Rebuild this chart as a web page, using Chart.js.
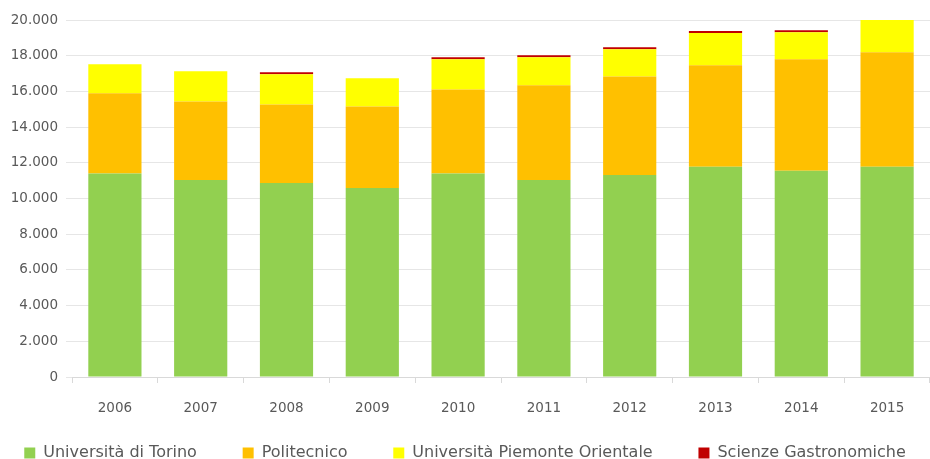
<!doctype html>
<html lang="it">
<head>
  <meta charset="utf-8">
  <title>Iscritti per ateneo</title>
  <script src="https://cdn.jsdelivr.net/npm/chart.js/dist/chart.umd.min.js"></script>
  <style>
    html, body { margin: 0; padding: 0; background: #fff; }
    .chartBox { width: 930px; height: 459px; }
  </style>
</head>
<body>
  <div class="chartBox">
    <canvas id="myChart"></canvas>
  </div>
  <script>
    const anni = ['2006', '2007', '2008', '2009', '2010', '2011', '2012', '2013', '2014', '2015'];
    const torino = [11400, 11040, 10870, 10590, 11400, 11040, 11320, 11780, 11550, 11780];
    const politecnico = [4490, 4400, 4400, 4560, 4710, 5300, 5520, 5690, 6250, 6420];
    const piemonteOrientale = [1630, 1690, 1690, 1580, 1690, 1580, 1520, 1800, 1520, 1800];
    const gastronomiche = [0, 0, 110, 0, 110, 110, 110, 110, 110, 0];

    // formato italiano: 20.000
    const fmt = v => String(v).replace(/\B(?=(\d{3})+(?!\d))/g, '.');

    const grigio = '#595959';
    const font = 'DejaVu Sans';

    const data = {
      labels: anni,
      datasets: [
        { label: 'Università di Torino', data: torino, backgroundColor: '#92d050' },
        { label: 'Politecnico', data: politecnico, backgroundColor: '#ffc000' },
        { label: 'Università Piemonte Orientale', data: piemonteOrientale, backgroundColor: '#ffff00' },
        { label: 'Scienze Gastronomiche', data: gastronomiche, backgroundColor: '#c00000' }
      ]
    };

    new Chart(document.getElementById('myChart'), {
      type: 'bar',
      data,
      options: {
        responsive: true,
        maintainAspectRatio: false,
        animation: false,
        barPercentage: 0.62,
        categoryPercentage: 1,
        layout: { padding: { top: 20, right: 0, left: 0, bottom: -12 } },
        plugins: {
          tooltip: { enabled: false },
          legend: {
            position: 'bottom',
            labels: {
              boxWidth: 11,
              boxHeight: 11,
              padding: 0,
              color: grigio,
              font: { family: font, size: 16 },
              // spazi in coda per distanziare le voci (non sull'ultima)
              generateLabels: chart => Chart.defaults.plugins.legend.labels.generateLabels(chart)
                .map((l, i, arr) => ({ ...l, text: i < arr.length - 1 ? l.text + '         ' : l.text }))
            }
          }
        },
        scales: {
          x: {
            stacked: true,
            afterFit: s => { s.height = 68; },
            grid: {
              display: true,
              drawOnChartArea: false,
              drawTicks: true,
              tickLength: 6,
              color: '#d9d9d9',
              offset: true
            },
            border: { color: '#d9d9d9' },
            ticks: { color: grigio, padding: 17, font: { family: font, size: 13.5 } }
          },
          y: {
            stacked: true,
            min: 0,
            max: 20000,
            afterFit: s => { s.width = 72; },
            grid: { color: '#e6e6e6', tickLength: 6, lineWidth: 1 },
            border: { display: false },
            ticks: {
              stepSize: 2000,
              color: grigio,
              padding: 8,
              font: { family: font, size: 13.5 },
              callback: v => fmt(v)
            }
          }
        }
      }
    });
  </script>
</body>
</html>
